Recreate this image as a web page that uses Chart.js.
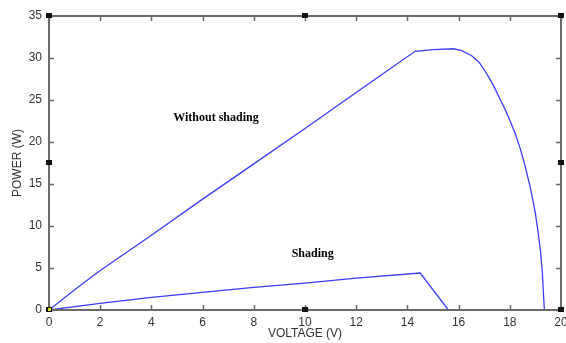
<!DOCTYPE html>
<html>
<head>
<meta charset="utf-8">
<script src="https://cdn.jsdelivr.net/npm/chart.js@4/dist/chart.umd.min.js"></script>
<style>
  html, body { margin: 0; padding: 0; background: #fff; }
  #wrap { width: 566px; height: 343px; }
</style>
</head>
<body>
<div id="wrap"><canvas id="pvChart" width="566" height="343"></canvas></div>
<script>
// PV curve without shading
const voltageNoShade = [0, 1, 2, 4, 6, 8, 10, 12, 14.3, 15, 15.8, 16.1, 16.5, 16.8, 17.0, 17.2, 17.4, 17.6, 17.8, 18.0, 18.2, 18.4, 18.6, 18.8, 19.0, 19.1, 19.2, 19.27, 19.35];
const powerNoShade   = [0, 2.4, 4.7, 8.9, 13.2, 17.4, 21.6, 25.9, 30.8, 31.0, 31.1, 30.9, 30.3, 29.5, 28.6, 27.6, 26.5, 25.2, 24.0, 22.6, 21.1, 19.3, 17.1, 14.6, 11.5, 9.4, 7.0, 4.5, 0];

// PV curve with shading
const voltageShade = [0, 2, 4, 6, 8, 10, 12, 14.5, 15.6];
const powerShade   = [0, 0.8, 1.5, 2.1, 2.7, 3.2, 3.8, 4.4, 0];

const xTicks = [0, 2, 4, 6, 8, 10, 12, 14, 16, 18, 20];
const yTicks = [0, 5, 10, 15, 20, 25, 30, 35];

const curveLabels = [
    { text: 'Without shading', v: 6.52, p: 22.9 },
    { text: 'Shading', v: 10.3, p: 6.7 }
];

const toPoints = (xs, ys) => xs.map((x, i) => ({ x: x, y: ys[i] }));

const lineColor = '#3c3cff';
const frameColor = '#6a6a6a';

// frame, inner ticks, handle markers and curve labels
const framePlugin = {
    id: 'frame',
    afterDraw(chart) {
        const ctx = chart.ctx;
        const a = chart.chartArea;
        const xs = chart.scales.x, ys = chart.scales.y;
        ctx.save();
        ctx.strokeStyle = frameColor;
        ctx.lineWidth = 2;
        ctx.strokeRect(a.left, a.top, a.right - a.left, a.bottom - a.top);

        ctx.lineWidth = 1.5;
        ctx.beginPath();
        xTicks.forEach(t => {
            const px = Math.round(xs.getPixelForValue(t)) + 0.5;
            ctx.moveTo(px, a.bottom); ctx.lineTo(px, a.bottom - 5);
            ctx.moveTo(px, a.top); ctx.lineTo(px, a.top + 5);
        });
        yTicks.forEach(t => {
            const py = Math.round(ys.getPixelForValue(t)) + 0.5;
            ctx.moveTo(a.left, py); ctx.lineTo(a.left + 5, py);
            ctx.moveTo(a.right, py); ctx.lineTo(a.right - 5, py);
        });
        ctx.stroke();

        // little black handles
        ctx.fillStyle = '#111';
        const hx = [xs.min, (xs.min + xs.max) / 2, xs.max];
        const hy = [ys.min, (ys.min + ys.max) / 2, ys.max];
        hx.forEach((vx, i) => {
            hy.forEach((vy, j) => {
                if (i === 1 && j === 1) return;
                const px = xs.getPixelForValue(vx), py = ys.getPixelForValue(vy);
                ctx.fillRect(px - 3, py - 3, 6, 5);
            });
        });
        ctx.fillStyle = '#e8e020';
        ctx.fillRect(xs.getPixelForValue(0) - 1, ys.getPixelForValue(0) - 2, 3, 3);

        // curve labels
        ctx.fillStyle = '#000';
        ctx.font = 'bold 12px "Liberation Serif", "Times New Roman", serif';
        ctx.textAlign = 'center';
        ctx.textBaseline = 'middle';
        curveLabels.forEach(l => {
            ctx.fillText(l.text, xs.getPixelForValue(l.v), ys.getPixelForValue(l.p));
        });
        ctx.restore();
    }
};

const tickFont = { family: '"Liberation Sans", Arial, sans-serif', size: 12 };

new Chart(document.getElementById('pvChart').getContext('2d'), {
    type: 'line',
    data: {
        datasets: [
            {
                label: 'Without shading',
                data: toPoints(voltageNoShade, powerNoShade),
                borderColor: lineColor,
                borderWidth: 1.3,
                pointRadius: 0,
                tension: 0
            },
            {
                label: 'Shading',
                data: toPoints(voltageShade, powerShade),
                borderColor: lineColor,
                borderWidth: 1.3,
                pointRadius: 0,
                tension: 0
            }
        ]
    },
    options: {
        responsive: false,
        animation: false,
        events: [],
        layout: { padding: { left: 0, right: 5, top: 16, bottom: 0 } },
        plugins: {
            legend: { display: false },
            tooltip: { enabled: false }
        },
        scales: {
            x: {
                type: 'linear',
                min: 0, max: 20,
                afterBuildTicks(scale) { scale.ticks = xTicks.map(v => ({ value: v })); },
                afterFit(scale) { scale.height = 33; scale.paddingLeft = 0; scale.paddingRight = 0; },
                grid: { display: false, drawTicks: false },
                border: { display: false },
                ticks: { color: '#333', font: tickFont, padding: 5, maxRotation: 0 },
                title: {
                    display: true,
                    text: 'VOLTAGE (V)',
                    color: '#333',
                    font: tickFont,
                    padding: { top: 0, bottom: 2 }
                }
            },
            y: {
                min: 0, max: 35,
                afterBuildTicks(scale) { scale.ticks = yTicks.map(v => ({ value: v })); },
                afterFit(scale) { scale.width = 49; scale.paddingTop = 0; scale.paddingBottom = 0; },
                grid: { display: false, drawTicks: false },
                border: { display: false },
                ticks: { color: '#333', font: tickFont, padding: 7 },
                title: {
                    display: true,
                    text: 'POWER (W)',
                    color: '#333',
                    font: tickFont,
                    padding: { top: 10, bottom: 0 }
                }
            }
        }
    },
    plugins: [framePlugin]
});
</script>
</body>
</html>
